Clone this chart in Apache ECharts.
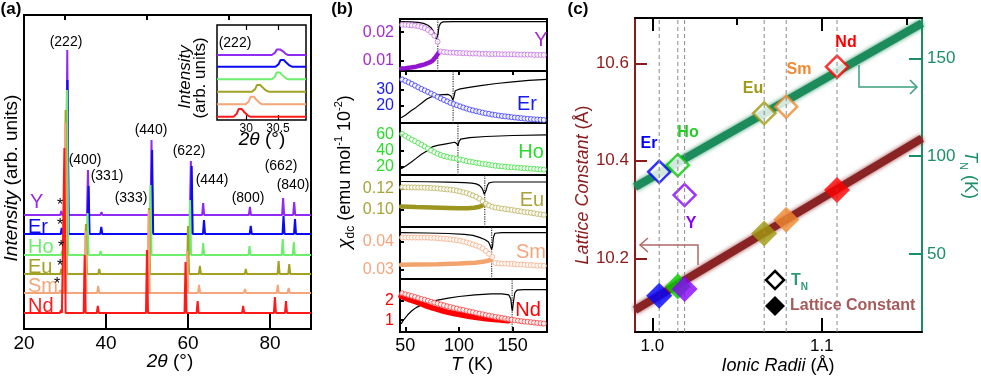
<!DOCTYPE html>
<html>
<head>
<meta charset="utf-8">
<script src="https://cdn.jsdelivr.net/npm/echarts@6.0.0/dist/echarts.min.js"></script>
<style>html,body{margin:0;padding:0;background:#fff;}#chart{width:981px;height:376px;}</style>
</head>
<body>
<div id="chart"></div>
<script>
const F = '"Liberation Sans", Arial, Helvetica, sans-serif';

// ================= Panel (a) : XRD =================
const xrdSamples = ['Y', 'Er', 'Ho', 'Eu', 'Sm', 'Nd'];
const xrdOffsets = [114, 95, 74, 55, 36, 16];
// [2theta, peak height]
const xrdPeaksY  = [[29.1,4],[30.55,165],[35.6,45],[38.9,3],[51.1,75],[60.7,54],[63.7,12],[75.1,8],[83.2,17],[85.9,13]];
const xrdPeaksEr = [[29.2,6],[30.6,154],[35.75,48],[38.85,7],[46.5,2],[49.3,2],[51.25,84],[60.9,68],[63.9,14],[75.3,8],[83.3,18],[86.1,15]];
const xrdPeaksHo = [[29.3,4],[30.5,165],[35.5,42],[38.7,4],[50.85,70],[60.5,55],[63.7,12],[75.0,9],[83.1,16],[85.8,13]];
const xrdPeaksEu = [[29.1,5],[30.15,164],[35.1,50],[38.35,5],[50.5,66],[60.0,48],[62.9,8],[74.1,5],[82.1,13],[84.7,10]];
const xrdPeaksSm = [[28.8,3],[30.05,170],[35.0,62],[38.1,7],[50.4,83],[59.8,42],[62.7,8],[73.9,4],[81.9,8],[84.55,5]];
const xrdPeaksNd = [[29.0,3],[29.85,165],[34.8,58],[38.0,7],[45.5,2],[50.0,63],[59.4,51],[62.35,12],[73.45,7],[81.2,16],[83.9,12]];
const xrdTicks = [20, 40, 60, 80];
const xrdMinorTicks = [30, 50, 70];
const xrdPeakLabels = ['(222)','(400)','(331)','(333)','(440)','(622)','(444)','(800)','(662)','(840)'];

// inset (222)
const insetPeakPos = [30.50, 30.56, 30.50, 30.19, 30.09, 29.90];
const insetPeakHeight = [7, 8.5, 8.5, 8.5, 9.5, 9.5];
const insetOffsets = [65, 53.3, 40.7, 28.3, 15.7, 3.3];
const insetProfile = [[-0.10,0],[-0.05,0.3],[-0.02,0.8],[0,1],[0.03,0.8],[0.06,0.55],[0.09,0.45],[0.12,0.15],[0.16,0]];
const insetTicks = [30, 30.5];

// ================= Panel (b) : chi_dc(T) =================
const bNames = ['Y', 'Er', 'Ho', 'Eu', 'Sm', 'Nd'];
const bT = [47,50,53,56,59,62,65,68,71,74,77,80,83,86,89,92,95,98,101,104,107,110,113,116,119,122,125,128,131,134,137,140,143,146,149,152,155,158,161,164,167,170,173,176,179];
const bYOpen = [0.0226,0.0226,0.0225,0.0224,0.0223,0.0221,0.0218,0.0214,0.0208,0.0200,0.0188,0.0167,0.0133,0.0131,0.0130,0.0129,0.0129,0.0128,0.0128,0.0127,0.0127,0.0126,0.0126,0.0126,0.0125,0.0125,0.0125,0.0124,0.0124,0.0124,0.0124,0.0123,0.0123,0.0123,0.0123,0.0123,0.0122,0.0122,0.0122,0.0122,0.0122,0.0121,0.0121,0.0121,0.0121];
const bErOpen = [36.0,35.2,34.3,33.3,32.3,31.3,30.3,29.4,28.5,27.5,26.6,25.6,24.6,23.7,22.8,21.9,21.2,20.5,19.8,19.1,18.5,17.9,17.4,16.9,16.5,16.0,15.6,15.3,14.9,14.6,14.3,14.0,13.8,13.6,13.3,13.1,12.9,12.7,12.5,12.3,12.2,12.0,11.9,11.8,11.6];
const bHoOpen = [61.4,58.9,56.5,54.3,52.2,50.0,47.8,45.5,43.0,40.6,38.4,36.4,34.8,33.5,32.4,31.4,30.7,30.0,29.2,28.2,27.1,26.4,25.7,25.0,24.3,23.7,23.1,22.5,21.8,21.2,20.8,20.4,20.0,19.6,19.3,19.0,18.7,18.4,18.1,17.8,17.5,17.2,16.9,16.6,16.3];
const bEuOpen = [0.1209,0.1209,0.1209,0.1208,0.1208,0.1207,0.1207,0.1206,0.1205,0.1203,0.1201,0.1199,0.1196,0.1193,0.1190,0.1187,0.1184,0.1178,0.1171,0.1163,0.1156,0.1146,0.1135,0.1121,0.1104,0.1080,0.1058,0.1042,0.1030,0.1023,0.1018,0.1013,0.1009,0.1005,0.1001,0.0996,0.0991,0.0986,0.0982,0.0978,0.0974,0.0969,0.0964,0.0959,0.0955];
const bSmOpen = [0.0413,0.0413,0.0413,0.0413,0.0413,0.0413,0.0413,0.0413,0.0413,0.0412,0.0412,0.0411,0.0410,0.0409,0.0408,0.0407,0.0405,0.0404,0.0402,0.0399,0.0396,0.0393,0.0389,0.0385,0.0381,0.0375,0.0366,0.0356,0.0345,0.0324,0.0323,0.0322,0.0322,0.0321,0.0321,0.0320,0.0319,0.0319,0.0318,0.0317,0.0317,0.0316,0.0315,0.0315,0.0314];
const bNdOpen = [2.37,2.32,2.27,2.23,2.18,2.13,2.08,2.04,1.99,1.94,1.90,1.85,1.80,1.76,1.71,1.67,1.63,1.59,1.55,1.52,1.48,1.44,1.41,1.37,1.33,1.30,1.26,1.23,1.20,1.17,1.14,1.11,1.08,1.05,1.03,1.00,0.98,0.95,0.93,0.92,0.90,0.88,0.86,0.85,0.83];

const bYFill  = [[46,0.0074],[50,0.0075],[55,0.0077],[60,0.0080],[64,0.0084],[68,0.0088],[72,0.0094],[75,0.0100],[77,0.0108],[79,0.0118],[81,0.0128]];
const bEuFill = [[46,0.1032],[60,0.1028],[75,0.1024],[90,0.1019],[100,0.1015],[108,0.1015],[114,0.1020],[118,0.1027],[121,0.1038],[123.5,0.1052]];
const bSmFill = [[46,0.0318],[60,0.0319],[80,0.0320],[100,0.0322],[115,0.0325],[122,0.0328],[127,0.0332],[130,0.0336]];
const bNdFill = [[46,2.22],[50,2.12],[55,2.02],[60,1.93],[65,1.83],[70,1.72],[75,1.63],[80,1.55],[85,1.47],[90,1.40],[95,1.34],[100,1.29],[105,1.24],[110,1.19],[115,1.15],[120,1.11],[125,1.08],[130,1.05],[135,1.03],[140,1.00],[146,0.97]];

// black reference curves (relative units, 0 = panel bottom, 1 = panel top)
const bYBlack  = [[46,0.95],[55,0.945],[62,0.935],[67,0.915],[71,0.88],[74,0.83],[76,0.77],[77.5,0.70],[78.7,0.62],[79.6,0.61],[80.4,0.70],[81.3,0.85],[82.8,0.92],[85,0.945],[95,0.95],[182,0.95]];
const bErBlack = [[46,0.10],[50,0.15],[55,0.23],[60,0.30],[65,0.38],[70,0.46],[75,0.51],[80,0.535],[85,0.545],[90,0.55],[92.5,0.52],[94.3,0.44],[95.2,0.50],[96.5,0.62],[100,0.65],[108,0.68],[120,0.72],[135,0.76],[150,0.79],[165,0.82],[182,0.84]];
const bHoBlack = [[46,0.12],[50,0.17],[55,0.24],[60,0.32],[65,0.40],[70,0.46],[72,0.50],[73,0.48],[75,0.54],[80,0.57],[88,0.60],[96,0.63],[98,0.60],[99,0.56],[100,0.64],[101.5,0.69],[110,0.72],[125,0.74],[150,0.76],[182,0.77]];
const bEuBlack = [[46,0.875],[70,0.87],[90,0.862],[105,0.855],[112,0.845],[116,0.83],[119,0.80],[121,0.76],[122.5,0.70],[123.5,0.63],[124.3,0.62],[125.2,0.70],[126.5,0.80],[128,0.85],[132,0.865],[182,0.865]];
const bSmBlack = [[46,0.89],[70,0.885],[90,0.875],[105,0.86],[113,0.84],[119,0.80],[124,0.76],[127.5,0.71],[129.3,0.63],[130.3,0.57],[131.2,0.62],[132,0.80],[133.5,0.88],[140,0.89],[182,0.89]];
const bNdBlack = [[46,0.15],[48,0.22],[52,0.32],[56,0.40],[60,0.46],[65,0.51],[70,0.55],[80,0.60],[90,0.64],[100,0.67],[115,0.70],[130,0.72],[140,0.72],[146.5,0.70],[148.3,0.62],[149.2,0.45],[149.8,0.40],[150.6,0.55],[152,0.74],[154,0.79],[160,0.80],[182,0.80]];
const bTN = [80.2, 94.5, 99, 124, 130.4, 149.5];
const bTTicks = [50, 100, 150];

const bYRanges = [[0.0065,0.0246],[9.8,41.1],[9.5,75.2],[0.0843,0.1323],[0.0268,0.045],[0.4,3.1]];
const bYTicks = [[0.01,0.02],[20,30],[20,40,60],[0.10,0.12],[0.03,0.04],[1,2]];
const bYDecimals = [2, 0, 0, 2, 2, 0];

// ================= Panel (c) =================
const cNames = ['Er', 'Ho', 'Y', 'Eu', 'Sm', 'Nd'];
const ionicRadii = [1.004, 1.015, 1.019, 1.066, 1.079, 1.109];
const latticeConst = [10.123, 10.142, 10.137, 10.251, 10.279, 10.340];
const neelT = [92.0, 95.4, 80.1, 121.9, 125.3, 145.7];
const fitTN = [[0.9897, 84.2], [1.1592, 167.9]];
const fitLattice = [[0.9897, 10.094], [1.1592, 10.446]];
const cXTicksMajor = [1.0, 1.1];
const cXTicksMinor = [1.05, 1.15];
const cLatTicks = [10.2, 10.4, 10.6];
const cTNTicks = [50, 100, 150];
const cXRange = [0.9897, 1.1592];
const cLatRange = [10.0488, 10.6929];
const cTNRange = [10.14, 170.6];

// ================= styles =================
const xrdColors = ['#8F2BF5', '#0A0AF5', '#6DEE6D', '#A3A124', '#F4A67A', '#FF1A1A'];
const bLabelColors = ['#A52AD0', '#1A1AF5', '#2ADD2A', '#AAA23A', '#F5A57C', '#FF0000'];
const bCircleColors = ['#C46FE6', '#3535FF', '#3FE03F', '#BAB25A', '#F6AE86', '#FF3535'];
const bFillColors = { 0: '#9215D0', 3: '#9C9520', 4: '#F3A36E', 5: '#FF0000' };
const cColors = ['#0000FF', '#00D000', '#8800FF', '#A09A10', '#F08A30', '#FF0000'];
const LAT = '#8B1A1A', TNC = '#1A8F66';

const bTops = [19, 71, 123, 175, 227, 279];
const bHeights = [52, 52, 52, 52, 52, 53];

// ================= build =================
function ax(gi, min, max, o) {
  return Object.assign({ gridIndex: gi, type: 'value', min: min, max: max,
    axisLine: { show: false }, axisTick: { show: false }, axisLabel: { show: false },
    splitLine: { show: false } }, o || {});
}
const blackTick = { color: '#000', width: 2 };

const grids = [
  { left: 24, top: 15, width: 287, height: 314, show: true, borderColor: '#000', borderWidth: 2 },
  { left: 217, top: 25, width: 89, height: 95, show: true, borderColor: '#000', borderWidth: 1.5, backgroundColor: '#fff' }
];
bTops.forEach((t, i) => grids.push({ left: 400, top: t, width: 147, height: bHeights[i], show: true, borderColor: '#000', borderWidth: 2 }));
grids.push({ left: 635, top: 18, width: 287, height: 314 });

const xAxes = [
  ax(0, 20, 90, { axisTick: { show: true, inside: true, length: 15, customValues: [40, 60, 80], lineStyle: blackTick },
    axisLabel: { show: true, customValues: xrdTicks, fontSize: 19, color: '#000', fontFamily: F, margin: 5 } }),
  ax(0, 20, 90, { axisTick: { show: true, inside: true, length: 5, customValues: xrdMinorTicks, lineStyle: blackTick } }),
  ax(1, 29.54, 30.94, { axisTick: { show: true, inside: true, length: 5, customValues: insetTicks, lineStyle: { color: '#000', width: 1.2 } },
    axisLabel: { show: true, customValues: insetTicks, fontSize: 12, color: '#000', fontFamily: F, margin: 3 } }),
  ax(1, 29.54, 30.94, { position: 'top', axisTick: { show: true, inside: true, length: 5, customValues: insetTicks, lineStyle: { color: '#000', width: 1.2 } } })
];
for (let i = 0; i < 6; i++) {
  const o = {};
  if (i === 0) { o.position = 'top'; o.axisTick = { show: true, inside: true, length: 4, customValues: bTTicks, lineStyle: blackTick }; }
  if (i === 5) {
    o.axisTick = { show: true, inside: true, length: 5, customValues: bTTicks, lineStyle: blackTick };
    o.axisLabel = { show: true, customValues: bTTicks, fontSize: 18, color: '#000', fontFamily: F, margin: 5 };
  }
  xAxes.push(ax(2 + i, 45, 182, o));
}
xAxes.push(ax(8, cXRange[0], cXRange[1], { axisLine: { show: true, lineStyle: { color: '#000', width: 2 } },
  axisTick: { show: true, inside: true, length: 14, customValues: cXTicksMajor, lineStyle: blackTick },
  axisLabel: { show: true, customValues: cXTicksMajor, formatter: v => v.toFixed(1), fontSize: 17, color: '#000', fontFamily: F, margin: 6 } }));
xAxes.push(ax(8, cXRange[0], cXRange[1], { axisTick: { show: true, inside: true, length: 7, customValues: cXTicksMinor, lineStyle: blackTick } }));
xAxes.push(ax(8, cXRange[0], cXRange[1], { position: 'top', axisLine: { show: true, lineStyle: { color: '#000', width: 2 } },
  axisTick: { show: true, inside: true, length: 13, customValues: cXTicksMajor, lineStyle: blackTick } }));
xAxes.push(ax(8, cXRange[0], cXRange[1], { position: 'top', axisTick: { show: true, inside: true, length: 7, customValues: cXTicksMinor, lineStyle: blackTick } }));

const yAxes = [ ax(0, 0, 314), ax(1, 0, 95) ];
for (let i = 0; i < 6; i++) {
  const d = bYDecimals[i];
  yAxes.push(ax(2 + i, bYRanges[i][0], bYRanges[i][1], {
    axisTick: { show: true, inside: true, length: 4, customValues: bYTicks[i], lineStyle: blackTick },
    axisLabel: { show: true, customValues: bYTicks[i], formatter: v => v.toFixed(d), fontSize: 16, color: bLabelColors[i], fontFamily: F, margin: 6 }
  }));
}
for (let i = 0; i < 6; i++) yAxes.push(ax(2 + i, 0, 1));
yAxes.push(ax(8, cLatRange[0], cLatRange[1], { position: 'left',
  axisLine: { show: true, lineStyle: { color: LAT, width: 2 } },
  axisTick: { show: true, inside: true, length: 12, customValues: cLatTicks, lineStyle: { color: LAT, width: 2 } },
  axisLabel: { show: true, customValues: cLatTicks, formatter: v => v.toFixed(1), fontSize: 17, color: LAT, fontFamily: F, margin: 6 } }));
yAxes.push(ax(8, cTNRange[0], cTNRange[1], { position: 'right',
  axisLine: { show: true, lineStyle: { color: TNC, width: 2 } },
  axisTick: { show: true, inside: true, length: 13, customValues: cTNTicks, lineStyle: { color: TNC, width: 2 } },
  axisLabel: { show: true, customValues: cTNTicks, fontSize: 17, color: TNC, fontFamily: F, margin: 5 } }));

const series = [];
// (a) main patterns
[xrdPeaksY, xrdPeaksEr, xrdPeaksHo, xrdPeaksEu, xrdPeaksSm, xrdPeaksNd].forEach((pk, i) => {
  const base = xrdOffsets[i];
  const pts = [[20, base]];
  pk.slice().sort((a, b) => a[0] - b[0]).forEach(([p, h]) => {
    const hw = h > 100 ? 0.3 : 0.25;
    pts.push([p - hw, base], [p, base + h], [p + hw, base]);
  });
  pts.push([90, base]);
  series.push({ name: xrdSamples[i], type: 'line', xAxisIndex: 0, yAxisIndex: 0, data: pts, showSymbol: false, silent: true,
    lineStyle: { color: xrdColors[i], width: 2 }, z: 2 + i });
});
// (a) inset
insetPeakPos.forEach((p, i) => {
  const base = insetOffsets[i];
  const pts = [[29.54, base]];
  insetProfile.forEach(([dx, f]) => pts.push([p + dx, base + f * insetPeakHeight[i]]));
  pts.push([30.94, base]);
  series.push({ type: 'line', xAxisIndex: 2, yAxisIndex: 1, data: pts, showSymbol: false, silent: true,
    lineStyle: { color: xrdColors[i], width: 2 }, z: 10 + i });
});
// (b)
const bOpen = [bYOpen, bErOpen, bHoOpen, bEuOpen, bSmOpen, bNdOpen];
const bFill = [bYFill, null, null, bEuFill, bSmFill, bNdFill];
const bBlack = [bYBlack, bErBlack, bHoBlack, bEuBlack, bSmBlack, bNdBlack];
for (let i = 0; i < 6; i++) {
  series.push({ type: 'line', xAxisIndex: 4 + i, yAxisIndex: 8 + i, data: [[bTN[i], 0], [bTN[i], 1]], showSymbol: false, silent: true,
    lineStyle: { type: 'dotted', color: '#333', width: 1.2 }, z: 1 });
  series.push({ type: 'line', xAxisIndex: 4 + i, yAxisIndex: 8 + i, data: bBlack[i], showSymbol: false, silent: true,
    lineStyle: { color: '#000', width: 1.2 }, z: 2 });
  if (bFill[i]) {
    series.push({ type: 'line', xAxisIndex: 4 + i, yAxisIndex: 2 + i, data: bFill[i], showSymbol: false, silent: true,
      lineStyle: { color: bFillColors[i], width: i === 5 ? 5.5 : 4.5, cap: 'round' }, z: 3 });
  }
  series.push({ type: 'scatter', xAxisIndex: 4 + i, yAxisIndex: 2 + i, data: bT.map((t, k) => [t, bOpen[i][k]]),
    symbol: 'circle', symbolSize: 5, silent: true,
    itemStyle: { color: '#fff', borderColor: bCircleColors[i], borderWidth: 1 }, z: 4 });
}
// (c)
series.push({ type: 'line', xAxisIndex: 10, yAxisIndex: 15, data: fitTN, showSymbol: false, silent: true,
  lineStyle: { color: '#1C8C5C', width: 8, shadowColor: 'rgba(28,140,92,0.9)', shadowBlur: 4 }, z: 2 });
series.push({ type: 'line', xAxisIndex: 10, yAxisIndex: 14, data: fitLattice, showSymbol: false, silent: true,
  lineStyle: { color: '#8A2424', width: 8, shadowColor: 'rgba(138,36,36,0.9)', shadowBlur: 4 }, z: 2 });
series.push({ type: 'scatter', xAxisIndex: 10, yAxisIndex: 15, symbol: 'diamond', symbolSize: 22, silent: true,
  data: ionicRadii.map((r, k) => ({ value: [r, neelT[k]], itemStyle: { color: '#fff', borderColor: cColors[k], borderWidth: 2.5 } })), z: 3 });
ionicRadii.forEach(r => {
  series.push({ type: 'line', xAxisIndex: 10, yAxisIndex: 14, data: [[r, cLatRange[0]], [r, cLatRange[1]]], showSymbol: false, silent: true,
    lineStyle: { type: [4, 3], color: '#8a8a8a', width: 1 }, z: 4 });
});
const latOrder = [5, 4, 3, 1, 0, 2];
series.push({ type: 'scatter', xAxisIndex: 10, yAxisIndex: 14, symbol: 'diamond', symbolSize: 26, silent: true,
  data: latOrder.map(k => ({ value: [ionicRadii[k], latticeConst[k]], itemStyle: { color: cColors[k] } })), z: 5 });

// ================= graphics (texts, arrows) =================
const G = [];
function txt(x, y, text, o) {
  const st = Object.assign({ text: text, fontSize: 16, fontFamily: F, fill: '#000', align: 'center', verticalAlign: 'middle' }, o && o.style);
  G.push({ type: 'text', x: x, y: y, rotation: (o && o.rotation) || 0, silent: true, z: 100, style: st });
}
txt(11, 9, '(a)', { style: { fontWeight: 'bold', fontSize: 17 } });
txt(342, 9, '(b)', { style: { fontWeight: 'bold', fontSize: 17 } });
txt(578, 9, '(c)', { style: { fontWeight: 'bold', fontSize: 17 } });
// (a)
txt(12, 178, '{i|Intensity} (arb. units)', { rotation: Math.PI / 2, style: { fontSize: 19, rich: { i: { fontStyle: 'italic', fontSize: 19, fontFamily: F, fill: '#000' } } } });
txt(170, 362, '{i|2θ} (°)', { style: { fontSize: 19, rich: { i: { fontStyle: 'italic', fontSize: 19, fontFamily: F, fill: '#000' } } } });
const peakLabelPos = [[66,42],[85,160],[107,176],[131,198],[151,130],[189,151],[212,180],[248,198],[281,166],[293,185]];
xrdPeakLabels.forEach((t, k) => txt(peakLabelPos[k][0], peakLabelPos[k][1], t, { style: { fontSize: 14 } }));
const aLabelY = [202, 227, 247, 267, 286, 306];
xrdSamples.forEach((s, k) => txt(k === 0 ? 30 : 28, aLabelY[k], s, { style: { fontSize: 20, fill: xrdColors[k], align: 'left' } }));
[[60, 206], [60, 226], [61, 248], [60, 267], [57, 285]].forEach(p => txt(p[0], p[1], '*', { style: { fontSize: 16 } }));
txt(235, 43, '(222)', { style: { fontSize: 14 } });
txt(185, 77, 'Intensity', { rotation: Math.PI / 2, style: { fontSize: 17, fontStyle: 'italic' } });
txt(200, 78, '(arb. units)', { rotation: Math.PI / 2, style: { fontSize: 17 } });
txt(262, 140, '{i|2θ} (°)', { style: { fontSize: 19, rich: { i: { fontStyle: 'italic', fontSize: 19, fontFamily: F, fill: '#000' } } } });
// (b)
txt(345, 172, '{x|χ}{sub|dc} (emu mol{sup|-1} 10{sup|-2})', { rotation: Math.PI / 2, style: { fontSize: 18, rich: {
  x: { fontStyle: 'italic', fontSize: 19, fontFamily: F, fill: '#000', lineHeight: 24 },
  sub: { fontSize: 12, fontFamily: F, fill: '#000', verticalAlign: 'bottom', lineHeight: 24 },
  sup: { fontSize: 11, fontFamily: F, fill: '#000', verticalAlign: 'top', lineHeight: 24 } } } });
const bLabelPos = [[541, 40], [527, 104], [531, 152], [532, 200], [531, 252], [528, 310]];
bNames.forEach((s, k) => txt(bLabelPos[k][0], bLabelPos[k][1], s, { style: { fontSize: 20, fill: bLabelColors[k] } }));
txt(472, 365, '{i|T} (K)', { style: { fontSize: 19, rich: { i: { fontStyle: 'italic', fontSize: 19, fontFamily: F, fill: '#000' } } } });
// (c)
txt(583, 185, '{i|Lattice Constant} (Å)', { rotation: Math.PI / 2, style: { fontSize: 18, fill: LAT, rich: { i: { fontStyle: 'italic', fontSize: 18, fontFamily: F, fill: LAT } } } });
txt(970, 175, '{i|T}{sub|N} (K)', { rotation: -Math.PI / 2, style: { fontSize: 18, fill: TNC, rich: {
  i: { fontStyle: 'italic', fontSize: 18, fontFamily: F, fill: TNC, lineHeight: 24 },
  sub: { fontSize: 11, fontFamily: F, fill: TNC, verticalAlign: 'bottom', lineHeight: 24 } } } });
txt(778, 366, '{i|Ionic Radii} (Å)', { style: { fontSize: 18, rich: { i: { fontStyle: 'italic', fontSize: 18, fontFamily: F, fill: '#000' } } } });
const cLabelPos = [[649, 144], [688, 133], [691, 224], [753, 89], [799, 70], [846, 43]];
const cLabelColors = ['#0000FF', '#22CC22', '#8800FF', '#A09A10', '#F08A30', '#FF0000'];
cNames.forEach((s, k) => txt(cLabelPos[k][0], cLabelPos[k][1], s, { style: { fontSize: 16, fontWeight: 'bold', fill: cLabelColors[k] } }));
// legend
G.push({ type: 'polygon', silent: true, z: 100, shape: { points: [[775, 271], [784, 280], [775, 289], [766, 280]] }, style: { fill: '#fff', stroke: '#000', lineWidth: 2.5 } });
G.push({ type: 'polygon', silent: true, z: 100, shape: { points: [[775, 296], [785, 306], [775, 316], [765, 306]] }, style: { fill: '#000' } });
txt(791, 281, 'T{sub|N}', { style: { fontSize: 16, fontWeight: 'bold', fill: '#2E9A74', align: 'left', rich: {
  sub: { fontSize: 10, fontWeight: 'bold', fontFamily: F, fill: '#2E9A74', verticalAlign: 'bottom', lineHeight: 22 } } } });
txt(790, 306, 'Lattice Constant', { style: { fontSize: 16, fontWeight: 'bold', fill: '#A85A5A', align: 'left' } });
// arrows
G.push({ type: 'polyline', silent: true, z: 100, shape: { points: [[698, 265], [698, 245], [640, 245]] }, style: { stroke: '#B06868', lineWidth: 1.5, fill: null } });
G.push({ type: 'polyline', silent: true, z: 100, shape: { points: [[648, 238], [640, 245], [648, 252]] }, style: { stroke: '#B06868', lineWidth: 1.5, fill: null } });
G.push({ type: 'polyline', silent: true, z: 100, shape: { points: [[859, 65], [859, 87], [917, 87]] }, style: { stroke: '#3C9F80', lineWidth: 1.5, fill: null } });
G.push({ type: 'polyline', silent: true, z: 100, shape: { points: [[910, 80], [917, 87], [910, 94]] }, style: { stroke: '#3C9F80', lineWidth: 1.5, fill: null } });

const chart = echarts.init(document.getElementById('chart'), null, { renderer: 'canvas' });
chart.setOption({
  animation: false,
  backgroundColor: '#fff',
  grid: grids,
  xAxis: xAxes,
  yAxis: yAxes,
  series: series,
  graphic: G
});
</script>
</body>
</html>
